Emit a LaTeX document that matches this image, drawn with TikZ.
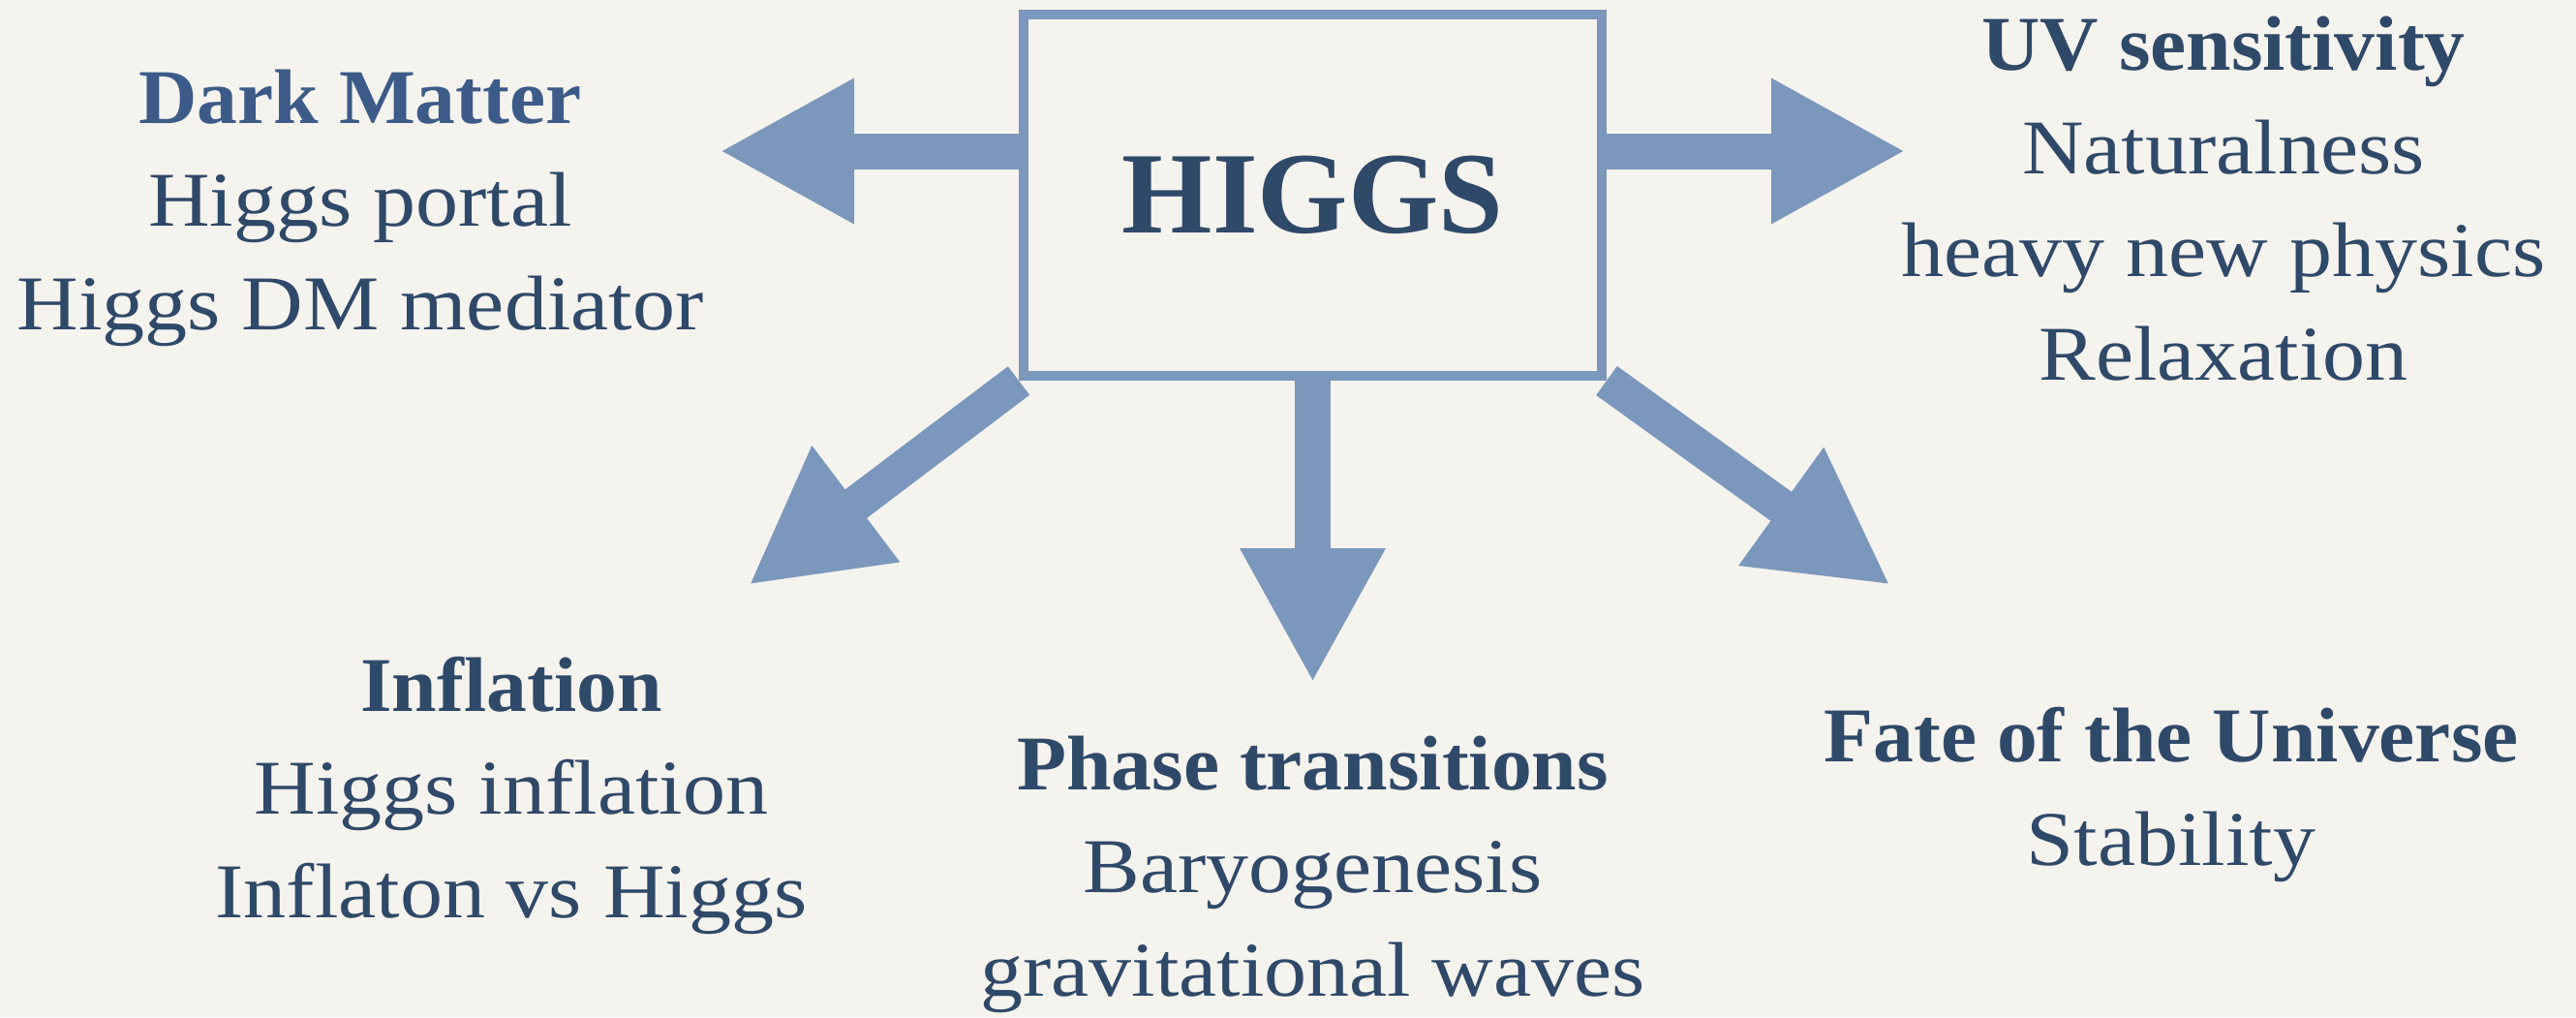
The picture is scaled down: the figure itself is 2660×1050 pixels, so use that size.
\documentclass[tikz,border=0pt]{standalone}
\usepackage{fontspec}
\setmainfont{Liberation Serif}[FakeStretch=1.1, BoldFeatures={FakeStretch=1.045}]
\newfontfamily\higgsfont{Liberation Serif}
\usetikzlibrary{arrows.meta,positioning,backgrounds}
\definecolor{hgBlue}{HTML}{7B98BC}
\definecolor{hgInk}{HTML}{2F4969}
\definecolor{hgInkDM}{HTML}{3C5B88}
\definecolor{hgPaper}{HTML}{F5F3EE}
\tikzset{
  % The central box. Outline only, the paper shows through.
  hg/box/.style={
    draw=hgBlue, line width=5pt, minimum width=298.5pt, minimum height=186.5pt,
    inner sep=0pt, text=hgInk, font=\higgsfont\fontsize{60}{70}\selectfont\bfseries
  },
  % Topic blocks: bold heading, then the examples, one per line.
  % (base anchor sits on the last line)
  hg/topic/.style={
    text=hgInk, align=center, inner sep=0pt, anchor=base,
    font=\fontsize{40}{53.25}\selectfont
  },
  % Fat arrows leaving the box.
  hg/arrow/.style={
    draw=hgBlue, line width=18.5pt,
    -{Triangle[length=69.5pt,width=70pt]}
  },
}

\begin{document}
\begin{tikzpicture}[x=0.5pt,y=-0.5pt]
  \useasboundingbox (0,0) rectangle (2660,1050);
  \node[hg/box] (higgs) at (1355.5,201.5) {\raisebox{-3pt}{HIGGS}};
  \coordinate (tipDM) at (743,156);
  \coordinate (tipUV) at (1968,156);
  \coordinate (tipIN) at (773,604);
  \coordinate (tipPT) at (1355.5,705);
  \coordinate (tipFU) at (1952,604);
  \node[hg/topic] (dm) at (372,340)
       {{\bfseries\color{hgInkDM}Dark Matter}\\Higgs portal\\Higgs DM mediator};
  \node[hg/topic] (uv) at (2296,392)
       {{\bfseries UV sensitivity}\\Naturalness\\heavy new physics\\Relaxation};
  \node[hg/topic] (infl) at (528,947)
       {{\bfseries Inflation}\\Higgs inflation\\Inflaton vs Higgs};
  \node[hg/topic] (phase) at (1355.5,1028)
       {{\bfseries Phase transitions}\\Baryogenesis\\gravitational waves};
  \node[hg/topic] (fate) at (2242,893)
       {{\bfseries Fate of the Universe}\\Stability};
  \begin{scope}[on background layer]
    \fill[hgPaper] (0,0) rectangle (2660,1050);
    \draw[hg/arrow] (higgs.west |- tipDM) -- (tipDM);
    \draw[hg/arrow] (higgs.east |- tipUV) -- (tipUV);
    \draw[hg/arrow] (higgs.south) -- (tipPT);
    \draw[hg/arrow] (higgs.south west) -- (tipIN);
    \draw[hg/arrow] (higgs.south east) -- (tipFU);
  \end{scope}
\end{tikzpicture}
\end{document}
